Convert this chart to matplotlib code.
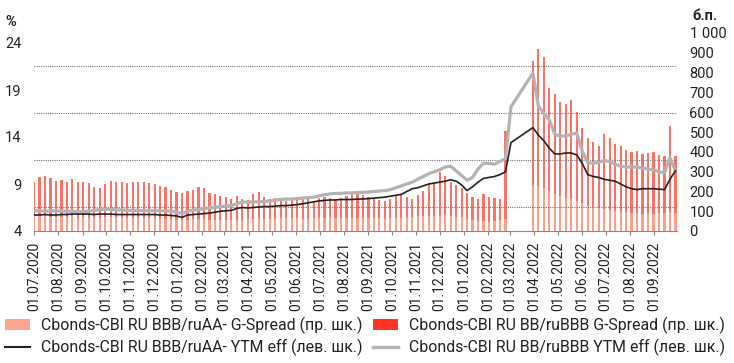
import numpy as np
import pandas as pd
import matplotlib
matplotlib.use("Agg")
import matplotlib.pyplot as plt
from matplotlib.patches import Patch
from matplotlib.lines import Line2D

plt.rcParams['font.family'] = ['Roboto', 'DejaVu Sans']

nan = np.nan

# weekly observations, 01.07.2020 .. 28.09.2022
dates = pd.date_range('2020-07-01', periods=118, freq='7D')

# Cbonds-CBI RU BBB/ruAA- YTM eff, %
ytm_bbb = [
    5.7, 5.7, 5.75, 5.7, 5.7,
    5.75, 5.75, 5.8, 5.8,
    5.8, 5.8, 5.75, 5.8, 5.8,
    5.8, 5.75, 5.75, 5.75,
    5.75, 5.75, 5.75, 5.75,
    5.75, 5.7, 5.7, 5.65, 5.6,
    5.45, 5.7, 5.75, 5.8,
    5.85, 5.9, 6.0, 6.1,
    6.15, 6.2, 6.4, 6.5,
    6.45, 6.5, 6.55, 6.6, 6.6,
    6.65, 6.7, 6.7, 6.75,
    6.8, 6.9, 7.0, 7.1, 7.2,
    7.25, 7.3, 7.3, 7.35,
    7.35, 7.35, 7.4, 7.4,
    7.45, 7.5, 7.55, 7.6, 7.7,
    7.8, 7.9, 8.2, 8.5,
    8.6, 8.8, 9.0, 9.1,
    9.2, 9.3, 9.45, 9.3, 8.9,
    8.3, 8.7, 9.2, 9.6,
    9.7, 9.8, 10.0, 10.3,
    13.4, nan, nan, nan,
    15.0, 14.2, 13.6, 12.8, 12.2,
    12.2, 12.3, 12.3, 12.1,
    11.2, 10.0, 9.8, 9.7, 9.5,
    9.4, 9.3, 9.0, 8.7, 8.5,
    8.4, 8.5, 8.5, 8.5, 8.45,
    8.4, 9.5, 10.4,
]

# Cbonds-CBI RU BB/ruBBB YTM eff, %
ytm_bb = [
    6.15, 6.15, 6.1, 6.15, 6.15,
    6.1, 6.1, 6.1, 6.05,
    6.05, 6.1, 6.2, 6.3, 6.3,
    6.3, 6.25, 6.25, 6.2,
    6.2, 6.2, 6.15, 6.15,
    6.15, 6.15, 6.15, 6.1, 6.0,
    5.85, 6.1, 6.2, 6.3,
    6.4, 6.45, 6.5, 6.6,
    6.65, 6.7, 6.9, 7.1,
    7.05, 7.1, 7.1, 7.15, 7.2,
    7.3, 7.35, 7.4, 7.4,
    7.45, 7.5, 7.55, 7.6, 7.75,
    7.85, 7.95, 8.0, 8.0,
    8.05, 8.05, 8.1, 8.1,
    8.15, 8.2, 8.25, 8.3, 8.4,
    8.6, 8.8, 9.0, 9.2,
    9.5, 9.8, 10.1, 10.3,
    10.5, 10.8, 10.9, 10.4, 9.9,
    9.4, 9.7, 10.6, 11.2,
    11.2, 11.1, 11.4, 11.7,
    17.2, nan, nan, nan,
    20.8, 17.3, 16.5, 15.8, 14.3,
    14.1, 14.1, 14.3, 14.4,
    12.5, 11.3, 11.2, 11.3, 11.5,
    11.4, 11.1, 10.9, 10.8, 10.8,
    10.8, 10.7, 10.6, 10.5, 10.3,
    10.2, 11.8, 10.4,
]

# Cbonds-CBI RU BB/ruBBB G-Spread, b.p.
spread_bb = [
    250, 275, 280, 270, 255,
    260, 250, 265, 245,
    250, 240, 220, 215, 235,
    255, 250, 245, 240,
    250, 245, 250, 240,
    235, 225, 220, 205, 195,
    190, 200, 205, 220,
    215, 190, 185, 175,
    170, 160, 175, 160,
    155, 185, 195, 170, 160,
    165, 160, 150, 155,
    160, 165, 160, 150, 165,
    170, 165, 160, 168,
    175, 185, 188, 180,
    170, 160, 155, 150, 160,
    175, 185, 170, 160,
    180, 200, 235, 245,
    300, 280, 250, 230, 215,
    190, 170, 160, 185,
    170, 165, 160, 505,
    nan, nan, nan, nan,
    860, 920, 880, 720, 690,
    650, 640, 660, 600,
    520, 470, 450, 430, 490,
    470, 440, 430, 410, 400,
    405, 390, 395, 400, 385,
    380, 530, 380,
]

# Cbonds-CBI RU BBB/ruAA- G-Spread, b.p.
spread_bbb = [
    75, 80, 78, 72, 70,
    72, 70, 74, 68,
    70, 68, 65, 66, 70,
    72, 70, 68, 66,
    68, 66, 68, 65,
    64, 62, 60, 60, 58,
    56, 58, 60, 62,
    60, 58, 56, 55,
    55, 54, 56, 58,
    60, 62, 64, 62, 60,
    62, 64, 66, 65,
    64, 62, 63, 64, 66,
    68, 70, 68, 66,
    65, 66, 68, 70,
    68, 66, 64, 62, 64,
    66, 68, 70, 72,
    74, 76, 78, 75,
    78, 80, 76, 72, 70,
    60, 55, 50, 48,
    45, 50, 55, 60,
    nan, nan, nan, nan,
    230, 225, 215, 200, 185,
    175, 165, 160, 150,
    140, 125, 120, 115, 110,
    105, 100, 98, 95, 92,
    90, 88, 90, 88, 92,
    90, 95, 90,
]

left_ticks = [4, 9, 14, 19, 24]
right_ticks = [0, 100, 200, 300, 400, 500, 600, 700, 800, 900, 1000]
right_labels = ['0', '100', '200', '300', '400', '500', '600', '700', '800', '900', '1 000']
grid_levels = [6.55, 11.55, 16.55, 21.55]
month_ticks = pd.date_range('2020-07-01', '2022-09-01', freq='MS')

labels = [
    'Cbonds-CBI RU BBB/ruAA- G-Spread (пр. шк.)',
    'Cbonds-CBI RU BB/ruBBB G-Spread (пр. шк.)',
    'Cbonds-CBI RU BBB/ruAA- YTM eff (лев. шк.)',
    'Cbonds-CBI RU BB/ruBBB YTM eff (лев. шк.)',
]

c_salmon = '#FDA590'
c_red = '#FF3524'
c_black = '#222222'
c_gray = '#B3B3B3'
c_text = '#222222'

fig = plt.figure(figsize=(7.34, 3.63), dpi=100)
ax = fig.add_axes([34 / 734, 1 - 231 / 363, 643 / 734, 198 / 363])
ax2 = ax.twinx()

# spreads (right scale): thin stripes, lower series on top
ax2.bar(dates, spread_bb, width=2.8, color=c_red, alpha=0.7, linewidth=0)
ax2.bar(dates, spread_bbb, width=2.8, color=c_salmon, alpha=0.9, linewidth=0)

# yields (left scale), gaps bridged like in the source
s1 = pd.Series(ytm_bbb, index=dates).dropna()
s2 = pd.Series(ytm_bb, index=dates).dropna()
for g in grid_levels:
    ax.axhline(g, color='#777777', lw=0.8, ls=(0, (1, 1)), zorder=1)
ax.plot(s2.index, s2.values, color=c_gray, lw=2.3, zorder=3)
ax.plot(s1.index, s1.values, color=c_black, lw=1.2, zorder=4)

ax.set_zorder(ax2.get_zorder() + 1)
ax.patch.set_visible(False)

ax.set_xlim(pd.Timestamp('2020-07-01'), pd.Timestamp('2022-09-30'))
ax.set_ylim(4, 24 + 10 / 9.4)
ax2.set_ylim(0, 1000)

ax.set_yticks(left_ticks)
ax.set_yticklabels([str(v) for v in left_ticks])
ax2.set_yticks(right_ticks)
ax2.set_yticklabels(right_labels)
ax.tick_params(axis='y', length=0, pad=9, labelsize=10.5, labelcolor=c_text)
ax2.tick_params(axis='y', length=0, pad=9, labelsize=10.5, labelcolor=c_text)

ax.set_xticks(month_ticks)
ax.set_xticklabels([d.strftime('%d.%m.%Y') for d in month_ticks], rotation=90)
ax.tick_params(axis='x', length=3, width=0.8, color='#888888', pad=5,
               labelsize=10, labelcolor=c_text)

for a in (ax, ax2):
    for side in ('left', 'right', 'top'):
        a.spines[side].set_visible(False)
ax2.spines['bottom'].set_visible(False)
ax.spines['bottom'].set_color('#888888')
ax.spines['bottom'].set_linewidth(0.8)

fig.text(5 / 734, 1 - 22 / 363, '%', fontsize=10.5, fontweight='bold',
         color=c_text, va='center', ha='left')
fig.text(692 / 734, 1 - 16 / 363, 'б.п.', fontsize=10.5, fontweight='bold',
         color=c_text, va='center', ha='left')

# legend: two separate columns placed like the source
leg_kw = dict(loc='upper left', frameon=False, fontsize=11.4, handlelength=1.6,
              handletextpad=0.7, labelspacing=0.3, borderaxespad=0,
              borderpad=0.3, labelcolor=c_text)
col1 = [Patch(facecolor=c_salmon, edgecolor='none'),
        Line2D([], [], color=c_black, lw=1.5)]
col2 = [Patch(facecolor=c_red, edgecolor='none'),
        Line2D([], [], color=c_gray, lw=2.5)]
leg1 = fig.legend(col1, [labels[0], labels[2]],
                  bbox_to_anchor=(0.0, 1 - 312 / 363), **leg_kw)
fig.legend(col2, [labels[1], labels[3]],
           bbox_to_anchor=(368 / 734, 1 - 312 / 363), **leg_kw)

fig.savefig('out.png', dpi=100)
